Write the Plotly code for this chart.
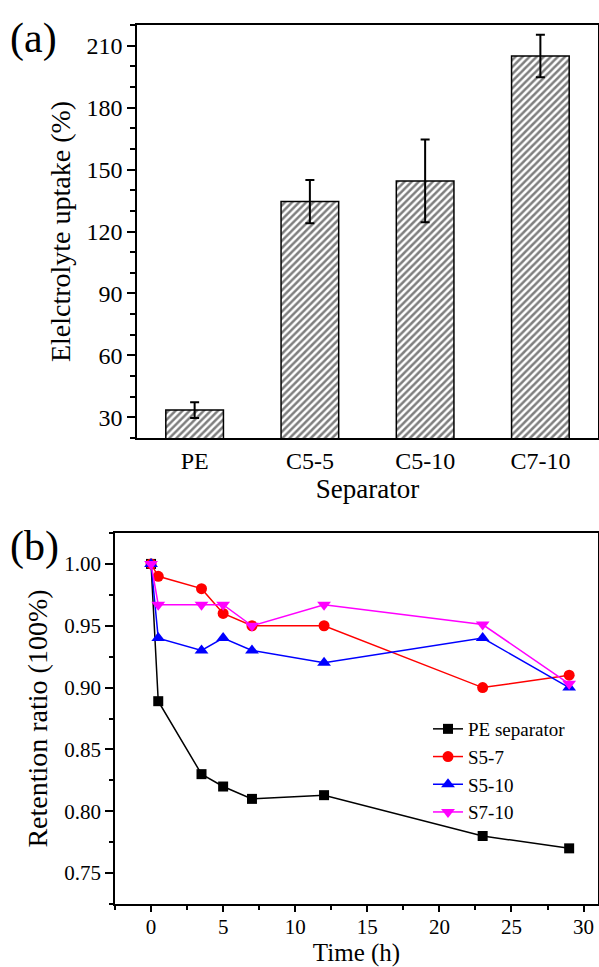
import plotly.graph_objects as go

# ---------- data: panel (a) ----------
separators = ["PE", "C5-5", "C5-10", "C7-10"]
uptake = [33.5, 134.5, 144.5, 205.0]
uptake_err = [3.8, 10.5, 20.0, 10.3]

# ---------- data: panel (b) ----------
time_h = [0, 0.5, 3.5, 5, 7, 12, 23, 29]
pe_sep = [1.00, 0.889, 0.830, 0.820, 0.810, 0.813, 0.780, 0.770]
s5_7 = [1.00, 0.990, 0.980, 0.960, 0.950, 0.950, 0.900, 0.910]
s5_10 = [1.00, 0.940, 0.930, 0.940, 0.930, 0.920, 0.940, 0.900]
s7_10 = [1.00, 0.967, 0.967, 0.967, 0.950, 0.967, 0.951, 0.903]

FONT = "Liberation Serif, Times New Roman, serif"
W, H = 599, 967

fig = go.Figure()

fig.add_trace(go.Bar(
    x=separators, y=uptake, width=0.5,
    marker=dict(color="white", line=dict(color="black", width=1.5),
                pattern=dict(shape="/", fgcolor="black", bgcolor="white",
                             size=5, solidity=0.5)),
    error_y=dict(type="data", array=uptake_err, color="black",
                 thickness=2, width=4.5),
    showlegend=False, xaxis="x", yaxis="y"))

series = [
    ("PE separator", pe_sep, "black", "square", 10),
    ("S5-7", s5_7, "red", "circle", 11),
    ("S5-10", s5_10, "blue", "triangle-up", 12),
    ("S7-10", s7_10, "magenta", "triangle-down", 12),
]
for name, ys, col, sym, sz in series:
    fig.add_trace(go.Scatter(
        x=time_h, y=ys, name=name, mode="lines+markers",
        line=dict(color=col, width=1.5),
        marker=dict(color=col, symbol=sym, size=sz),
        xaxis="x2", yaxis="y2"))

def px_x(p):
    return p / W

def px_y(p):
    return (H - p) / H

axis_common = dict(showline=True, linecolor="black", linewidth=1.5,
                   mirror=True, showgrid=False, zeroline=False,
                   tickcolor="black", tickwidth=1.5)

fig.update_layout(
    width=W, height=H,
    margin=dict(l=0, r=0, t=0, b=0),
    paper_bgcolor="white", plot_bgcolor="white",
    font=dict(family=FONT, color="black"),
    showlegend=True,
    xaxis=dict(domain=[px_x(137), px_x(598)], anchor="y",
               range=[-0.5, 3.5], ticks="",
               tickfont=dict(family=FONT, size=24, color="black"),
               title=dict(text="Separator", standoff=2,
                          font=dict(family=FONT, size=27)),
               **axis_common),
    yaxis=dict(domain=[px_y(438), px_y(25)], anchor="x",
               range=[20, 220], tick0=0, dtick=30, ticks="outside", ticklen=8,
               tickfont=dict(family=FONT, size=24, color="black"),
               minor=dict(dtick=10, ticklen=5, ticks="outside", tickcolor="black", tickwidth=1.5),
               title=dict(text="Elelctrolyte uptake (%)", standoff=8,
                          font=dict(family=FONT, size=28)),
               **axis_common),
    xaxis2=dict(domain=[px_x(115), px_x(598)], anchor="y2",
                range=[-2.5, 31], tick0=0, dtick=5, ticks="outside", ticklen=6,
                tickfont=dict(family=FONT, size=21, color="black"),
                ticklabelstandoff=-3,
                minor=dict(dtick=2.5, ticklen=4, ticks="outside", tickcolor="black", tickwidth=1.5),
                title=dict(text="Time (h)", standoff=2,
                           font=dict(family=FONT, size=25)),
                **axis_common),
    yaxis2=dict(domain=[px_y(904), px_y(533)], anchor="x2",
                range=[0.725, 1.025], tick0=0, dtick=0.05, tickformat=".2f",
                ticks="outside", ticklen=8,
                tickfont=dict(family=FONT, size=21, color="black"),
                minor=dict(dtick=0.025, ticklen=4, ticks="outside", tickcolor="black", tickwidth=1.5),
                title=dict(text="Retention ratio (100%)", standoff=8,
                           font=dict(family=FONT, size=28)),
                **axis_common),
    legend=dict(x=px_x(428), y=px_y(710), xanchor="left", yanchor="top",
                bgcolor="rgba(0,0,0,0)", font=dict(family=FONT, size=19),
                tracegroupgap=0),
    annotations=[
        dict(text="(a)", x=px_x(8), y=px_y(38), xref="paper", yref="paper",
             xanchor="left", yanchor="middle", showarrow=False,
             font=dict(family=FONT, size=42)),
        dict(text="(b)", x=px_x(8), y=px_y(546), xref="paper", yref="paper",
             xanchor="left", yanchor="middle", showarrow=False,
             font=dict(family=FONT, size=42)),
    ],
)

fig.write_html("out.html",
               config={"displayModeBar": False},
               post_script="document.body.style.margin='0';document.body.style.overflow='hidden';")
